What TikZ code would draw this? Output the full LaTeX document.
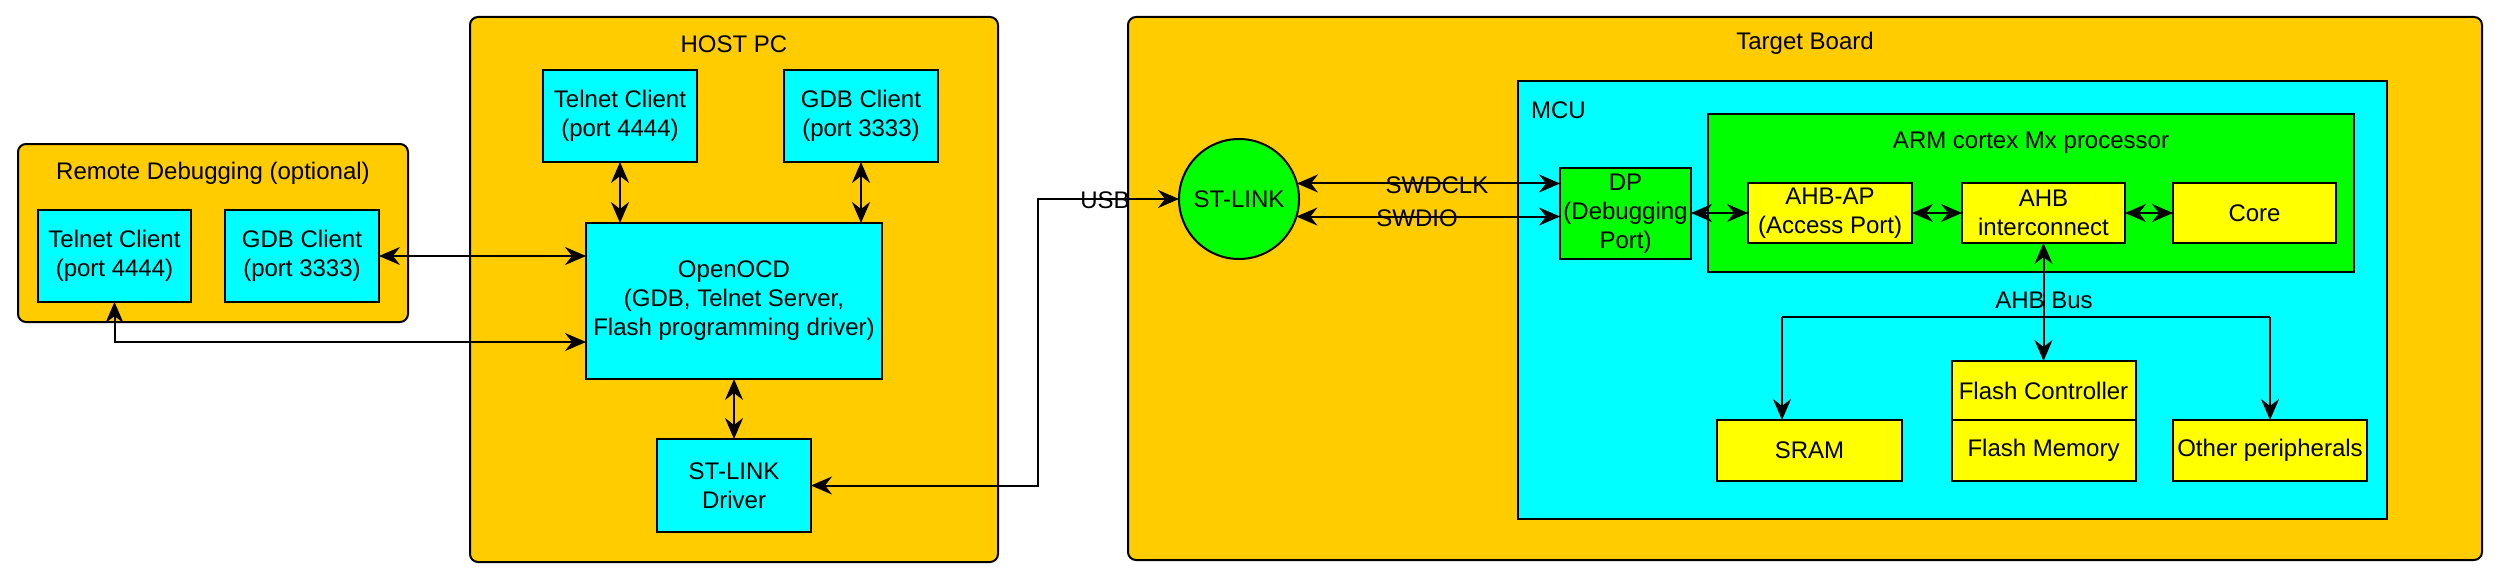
\documentclass[tikz,border=0pt]{standalone}
\usepackage{fontspec}
\setmainfont{Liberation Sans}
\usetikzlibrary{arrows.meta}
\definecolor{cOrange}{HTML}{FFCC00}
\definecolor{cCyan}{HTML}{00FFFF}
\definecolor{cGreen}{HTML}{00FF00}
\definecolor{cYellow}{HTML}{FFFF00}
\begin{document}
\begin{tikzpicture}[x=1pt,y=-1pt,
  every node/.style={font=\fontsize{24}{29}\selectfont, inner sep=0pt, outer sep=0pt, align=center},
  container/.style={draw=black, line width=2pt, fill=cOrange, rounded corners=8pt},
  cbox/.style={draw=black, line width=2pt, fill=cCyan},
  gbox/.style={draw=black, line width=2pt, fill=cGreen},
  ybox/.style={draw=black, line width=2pt, fill=cYellow},
  conn/.style={line width=2pt, draw=black},
  dbl/.style={conn, {Stealth[length=21pt,width=18pt,inset=7pt]}-{Stealth[length=21pt,width=18pt,inset=7pt]}},
  one/.style={conn, -{Stealth[length=21pt,width=18pt,inset=7pt]}},
  lbl/.style={fill=none}
]
\useasboundingbox (0,0) rectangle (2498,578);

% containers
\node[container, minimum width=390pt, minimum height=178pt] (remote) at (213,233) {};
\node (remoteT) at (213,173) {Remote Debugging (optional)};
\node[container, minimum width=528pt, minimum height=545pt] (host) at (734,289.5) {};
\node (hostT) at (734,44) {HOST PC};
\node[container, minimum width=1354pt, minimum height=543pt] (target) at (1805,288.5) {};
\node (targetT) at (1805,43) {Target Board};

% remote
\node[cbox, minimum width=153pt, minimum height=92pt] (rtel) at (114.5,256) {Telnet Client\\(port 4444)};
\node[cbox, minimum width=154pt, minimum height=92pt] (rgdb) at (302,256) {GDB Client\\(port 3333)};

% host
\node[cbox, minimum width=154pt, minimum height=92pt] (htel) at (620,116) {Telnet Client\\(port 4444)};
\node[cbox, minimum width=154pt, minimum height=92pt] (hgdb) at (861,116) {GDB Client\\(port 3333)};
\node[cbox, minimum width=296pt, minimum height=156pt] (ocd) at (734,301) {OpenOCD\\(GDB, Telnet Server,\\Flash programming driver)};
\node[cbox, minimum width=154pt, minimum height=93pt] (drv) at (734,485.5) {ST-LINK\\Driver};

% target
\node[draw=black, line width=2pt, fill=cGreen, circle, minimum size=120pt] (stl) at (1239,199) {ST-LINK};
\node[cbox, minimum width=869pt, minimum height=438pt] (mcu) at (1952.5,300) {};
\node[anchor=west] (mcuT) at (1531,110) {MCU};
\node[gbox, minimum width=131pt, minimum height=91pt] (dp) at (1625.5,213.5) {DP\\(Debugging\\Port)};
\node[gbox, minimum width=646pt, minimum height=158pt] (arm) at (2031,193) {};
\node (armT) at (2031,143) {ARM cortex Mx processor};
\node[ybox, minimum width=164pt, minimum height=60pt] (ahbap) at (1830,213) {AHB-AP\\(Access Port)};
\node[ybox, minimum width=163pt, minimum height=60pt] (ic) at (2043.5,213) {AHB\\interconnect};
\node[ybox, minimum width=163pt, minimum height=60pt] (core) at (2254.5,213) {Core};
\node[ybox, minimum width=184pt, minimum height=59pt] (fc) at (2043.5,390.5) {Flash Controller};
\node[ybox, minimum width=184pt, minimum height=61pt] (fm) at (2043.5,450.5) {Flash Memory};
\node[ybox, minimum width=185pt, minimum height=61pt] (sram) at (1809.5,450.5) {SRAM};
\node[ybox, minimum width=194pt, minimum height=61pt] (oth) at (2270,450.5) {Other peripherals};

% connectors host side
\draw[dbl] (htel.south) -- (htel.south |- ocd.north);
\draw[dbl] (hgdb.south) -- (hgdb.south |- ocd.north);
\draw[dbl] (ocd.south) -- (drv.north);
\draw[dbl] (rgdb.east) -- (rgdb.east -| ocd.west);
\coordinate (rtc) at (114.5,342);
\draw[dbl] (rtel.south) -- (rtc) -- (rtc -| ocd.west);

% USB
\coordinate (usbA) at (1038,485.5);
\coordinate (usbB) at (1038,199);
\draw[dbl] (drv.east) -- (usbA) -- (usbB) -- (stl.west);
\node[lbl] (usbL) at (1105,200) {USB};

% SWD
\draw[dbl] (stl.15.5) -- (stl.15.5 -| dp.west);
\draw[dbl] (stl.-17.5) -- (stl.-17.5 -| dp.west);
\node[lbl] (swdclk) at (1437,185) {SWDCLK};
\node[lbl] (swdio) at (1417,218) {SWDIO};

% internal
\draw[dbl] (dp.east |- ahbap.west) -- (ahbap.west);
\draw[dbl] (ahbap.east) -- (ic.west);
\draw[dbl] (ic.east) -- (core.west);
\draw[dbl] (ic.south) -- (ic.south |- fc.north);
\coordinate (busL) at (1782,316.7);
\coordinate (busR) at (2270,316.7);
\draw[conn] (busL) -- (busR);
\draw[one] (busL) -- (busL |- sram.north);
\draw[one] (busR) -- (oth.north);
\node[lbl] (busT) at (2044,300) {AHB Bus};
\end{tikzpicture}
\end{document}
